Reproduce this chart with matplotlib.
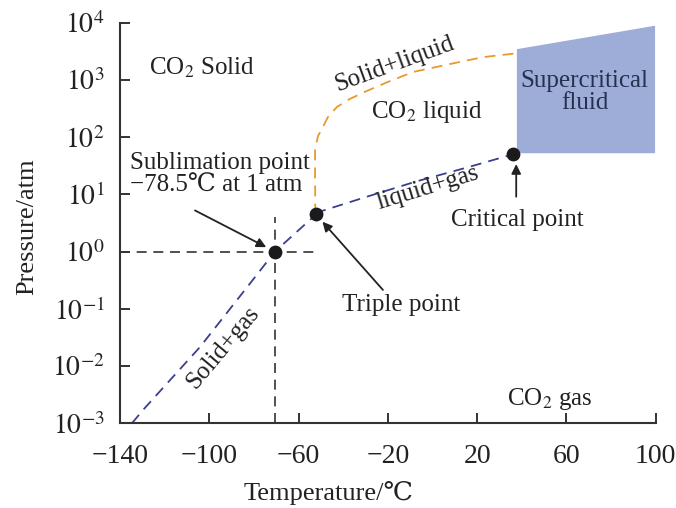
import numpy as np
import matplotlib
matplotlib.use('Agg')
import matplotlib.pyplot as plt
from matplotlib.ticker import FixedLocator, FuncFormatter

plt.rcParams['font.family'] = ['Liberation Serif', 'DejaVu Serif']
plt.rcParams['mathtext.fontset'] = 'stix'

# curves (temperature in C, log10 of pressure in atm)
solid_gas_t = [-134.6, -129.7, -104.2, -80.4, -70.6, -52.2]
solid_gas_logp = [-3.0, -2.77, -1.67, -0.49, 0.0, 0.65]

liquid_gas_t = [-52.2, -50.4, -29.4, -7.0, 15.4, 33.3, 36.0]
liquid_gas_logp = [0.65, 0.70, 0.96, 1.23, 1.47, 1.67, 1.70]

solid_liquid_t = [-52.5, -52.6, -52.6, -51.3, -49.6, -46.9, -42.8, -37.0, -29.4,
                  -20.4, -8.8, 7.8, 22.5, 36.0, 37.8]
solid_liquid_logp = [0.65, 1.3, 1.79, 2.02, 2.14, 2.35, 2.53, 2.67, 2.81,
                     2.96, 3.14, 3.28, 3.40, 3.46, 3.46]

supercrit_t = [37.8, 99.7, 99.7, 37.8]
supercrit_logp = [3.54, 3.95, 1.72, 1.72]

points_t = [-70.6, -52.2, 36.0]
points_logp = [0.0, 0.65, 1.70]

x_ticks = [-140, -100, -60, -20, 20, 60, 100]
y_exps = [-3, -2, -1, 0, 1, 2, 3, 4]


def main():
    fig = plt.figure(figsize=(6.76, 5.08), dpi=100)
    ax = fig.add_axes([0.1775, 0.167, 0.7925, 0.788])

    blue = '#3b3f8f'
    orange = '#e89a2c'
    dash = (0, (6, 4))

    ax.fill(supercrit_t, np.power(10.0, supercrit_logp), color='#9dadd8', lw=0, zorder=1)

    ax.plot(solid_gas_t, np.power(10.0, solid_gas_logp), color=blue, ls=dash, lw=1.3)
    ax.plot(liquid_gas_t, np.power(10.0, liquid_gas_logp), color=blue, ls=dash, lw=1.3)
    ax.plot(solid_liquid_t, np.power(10.0, solid_liquid_logp), color=orange, ls=dash, lw=1.3)

    # guide lines through the sublimation point
    ax.plot([-140, -51.3], [1, 1], color='#333333', ls=dash, lw=1.2)
    ax.plot([-70.6, -70.6], [1e-3, 3.98], color='#333333', ls=dash, lw=1.2)

    ax.scatter(points_t, np.power(10.0, points_logp), s=80, color='#1a1a1a', zorder=5)

    ax.set_xlim(-140, 100)
    ax.set_yscale('log')
    ax.set_ylim(1e-3, 1e4)
    ax.xaxis.set_major_locator(FixedLocator(x_ticks))
    ax.xaxis.set_major_formatter(FuncFormatter(lambda v, p: ('\u2212%d' % -v) if v < 0 else '%d' % v))
    ax.yaxis.set_major_locator(FixedLocator([10.0 ** e for e in y_exps]))
    ax.yaxis.set_major_formatter(FuncFormatter(lambda v, p: r'$10^{%d}$' % round(np.log10(v))))
    ax.yaxis.set_minor_locator(FixedLocator([]))
    ax.tick_params(direction='in', length=7, width=1.3, labelsize=20, colors='#222222')
    ax.tick_params(axis='x', pad=15)
    ax.tick_params(axis='y', pad=11)

    for s in ['top', 'right']:
        ax.spines[s].set_visible(False)
    for s in ['left', 'bottom']:
        ax.spines[s].set_linewidth(1.5)
        ax.spines[s].set_color('#333333')

    ax.set_xlabel('Temperature/\u2103', fontsize=19, color='#222222')
    ax.set_ylabel('Pressure/atm', fontsize=19, color='#222222')
    ax.xaxis.set_label_coords(0.39, -0.145)
    ax.yaxis.set_label_coords(-0.153, 0.49)

    fs = 18
    tc = '#222222'
    ax.text(-103.3, 10 ** 3.22, 'CO$_2$ Solid', fontsize=fs, color=tc, ha='center', va='center')
    ax.text(-16.9, 10 ** 3.28, 'Solid+liquid', fontsize=fs, color=tc, ha='center', va='center', rotation=20)
    ax.text(-2.5, 10 ** 2.44, 'CO$_2$ liquid', fontsize=fs, color=tc, ha='center', va='center')
    ax.text(68.2, 10 ** 2.79, 'Supercritical\nfluid', fontsize=fs, color='#263050', ha='center', va='center',
            linespacing=1.05)
    ax.text(-135.5, 10 ** 1.35, 'Sublimation point\n\u221278.5\u2103 at 1 atm', fontsize=fs, color=tc,
            ha='left', va='center', linespacing=1.05)
    ax.text(-2.1, 10 ** 1.12, 'liquid+gas', fontsize=fs, color=tc, ha='center', va='center', rotation=17)
    ax.text(38.2, 10 ** 0.56, 'Critical point', fontsize=fs, color=tc, ha='center', va='center')
    ax.text(-14.2, 10 ** -0.93, 'Triple point', fontsize=fs, color=tc, ha='center', va='center')
    ax.text(-93.9, 10 ** -1.67, 'Solid+gas', fontsize=fs, color=tc, ha='center', va='center', rotation=50)
    ax.text(52.6, 10 ** -2.58, 'CO$_2$ gas', fontsize=fs, color=tc, ha='center', va='center')

    arrow = dict(arrowstyle='-|>', color='#222222', lw=1.3, mutation_scale=14, shrinkA=0, shrinkB=7)
    ax.annotate('', xy=(-70.6, 1), xytext=(-106.4, 10 ** 0.72), arrowprops=arrow)
    ax.annotate('', xy=(-52.2, 10 ** 0.65), xytext=(-22.2, 10 ** -0.67), arrowprops=arrow)
    ax.annotate('', xy=(37.5, 10 ** 1.70), xytext=(37.5, 10 ** 0.96), arrowprops=arrow)

    fig.savefig('out.png', dpi=100)


if __name__ == '__main__':
    main()
